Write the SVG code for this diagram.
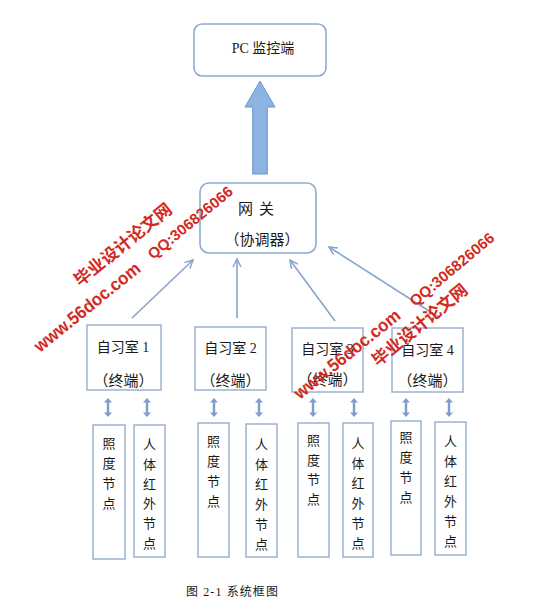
<svg xmlns="http://www.w3.org/2000/svg" xmlns:xlink="http://www.w3.org/1999/xlink" width="555" height="605" viewBox="0 0 555 605">
<style>
.rbox{fill:#fff;stroke:#8eaad1;stroke-width:1.6}
.box{fill:#fff;stroke:#9ab1d0;stroke-width:1.5}
.t{font-family:"Liberation Serif","Noto Sans CJK SC",serif;fill:#1a1a1a;text-anchor:middle;dominant-baseline:central}
.p{font-family:"Noto Sans CJK SC",sans-serif;fill:#1a1a1a;text-anchor:middle;dominant-baseline:central;font-size:15px}
.tn{font-family:"Noto Sans CJK SC",sans-serif;font-size:13px;fill:#1a1a1a;text-anchor:middle;dominant-baseline:central}
.con{stroke:#87a5cc;stroke-width:1.6;fill:none}
.wm{font-family:"Liberation Sans","Noto Sans CJK SC",sans-serif;font-weight:bold;fill:#d22a22}
</style>
<defs>
<marker id="arr" viewBox="0 0 10 10" refX="9" refY="5" markerWidth="10" markerHeight="10" markerUnits="userSpaceOnUse" orient="auto">
<path d="M1,1 L9,5 L1,9" fill="none" stroke="#87a5cc" stroke-width="1.5"/>
</marker>
<path id="dbl" d="M0,-9.5 L4,-5 L1.2,-5 L1.2,5 L4,5 L0,9.5 L-4,5 L-1.2,5 L-1.2,-5 L-4,-5 Z" fill="#7d9ec9"/>
</defs>
<rect width="555" height="605" fill="#fff"/>

<g id="pc">
<rect class="rbox" x="194" y="24" width="132" height="52" rx="8"/>
<text class="t" x="263" y="48.5" font-size="14">PC 监控端</text>
</g>

<g id="bigarrow">
<polygon points="260,81 275,107 267.3,107 267.3,174 252.7,174 252.7,107 245,107" fill="#8db3e2" stroke="#6f95c8" stroke-width="1"/>
</g>

<g id="gateway">
<rect class="rbox" x="200" y="183" width="116" height="70" rx="9"/>
<text class="t" x="256" y="209" font-size="15" textLength="36" lengthAdjust="spacing">网 关</text>
<text class="p" x="262" y="238.5">（协调器）</text>
</g>

<g id="room1">
<rect class="box" x="87" y="325" width="74" height="65"/>
<text class="t" x="123" y="347" font-size="14">自习室 1</text>
<text class="p" x="123.5" y="379">（终端）</text>
</g>
<g id="room2">
<rect class="box" x="195" y="327" width="71" height="63"/>
<text class="t" x="230.5" y="348" font-size="14">自习室 2</text>
<text class="p" x="230.5" y="379">（终端）</text>
</g>
<g id="room3">
<rect class="box" x="292" y="328" width="71" height="64"/>
<text class="t" x="327.5" y="349.5" font-size="14">自习室 3</text>
<text class="p" x="327.5" y="378.5">（终端）</text>
</g>
<g id="room4">
<rect class="box" x="392" y="328" width="71" height="64"/>
<text class="t" x="427.5" y="350" font-size="14">自习室 4</text>
<text class="p" x="427.5" y="379">（终端）</text>
</g>

<g id="node1a">
<rect class="box" x="93" y="425" width="32" height="134"/>
<text class="tn"><tspan x="109" y="442">照</tspan><tspan x="109" y="462">度</tspan><tspan x="109" y="482">节</tspan><tspan x="109" y="502">点</tspan></text>
</g>
<g id="node1b">
<rect class="box" x="134" y="425" width="31" height="132"/>
<text class="tn"><tspan x="149.5" y="443">人</tspan><tspan x="149.5" y="463">体</tspan><tspan x="149.5" y="483">红</tspan><tspan x="149.5" y="502">外</tspan><tspan x="149.5" y="522">节</tspan><tspan x="149.5" y="542">点</tspan></text>
</g>
<g id="node2a">
<rect class="box" x="198" y="423" width="31" height="134"/>
<text class="tn"><tspan x="213.5" y="440">照</tspan><tspan x="213.5" y="460">度</tspan><tspan x="213.5" y="480">节</tspan><tspan x="213.5" y="500">点</tspan></text>
</g>
<g id="node2b">
<rect class="box" x="246" y="424" width="31" height="133"/>
<text class="tn"><tspan x="261.5" y="443">人</tspan><tspan x="261.5" y="463">体</tspan><tspan x="261.5" y="483">红</tspan><tspan x="261.5" y="503">外</tspan><tspan x="261.5" y="523">节</tspan><tspan x="261.5" y="543">点</tspan></text>
</g>
<g id="node3a">
<rect class="box" x="298" y="423" width="31" height="134"/>
<text class="tn"><tspan x="313.5" y="439">照</tspan><tspan x="313.5" y="459">度</tspan><tspan x="313.5" y="478">节</tspan><tspan x="313.5" y="498">点</tspan></text>
</g>
<g id="node3b">
<rect class="box" x="343" y="423" width="30" height="134"/>
<text class="tn"><tspan x="358" y="442">人</tspan><tspan x="358" y="462">体</tspan><tspan x="358" y="482">红</tspan><tspan x="358" y="502">外</tspan><tspan x="358" y="522">节</tspan><tspan x="358" y="542">点</tspan></text>
</g>
<g id="node4a">
<rect class="box" x="391" y="421" width="30" height="134"/>
<text class="tn"><tspan x="406" y="436">照</tspan><tspan x="406" y="456">度</tspan><tspan x="406" y="476">节</tspan><tspan x="406" y="496">点</tspan></text>
</g>
<g id="node4b">
<rect class="box" x="435" y="422" width="31" height="133"/>
<text class="tn"><tspan x="450.5" y="440">人</tspan><tspan x="450.5" y="460">体</tspan><tspan x="450.5" y="480">红</tspan><tspan x="450.5" y="500">外</tspan><tspan x="450.5" y="520">节</tspan><tspan x="450.5" y="540">点</tspan></text>
</g>

<g id="connectors">
<line class="con" x1="132" y1="318" x2="193" y2="260" marker-end="url(#arr)"/>
<line class="con" x1="237" y1="318" x2="237" y2="259" marker-end="url(#arr)"/>
<line class="con" x1="335" y1="321" x2="290" y2="260" marker-end="url(#arr)"/>
<line class="con" x1="440" y1="318" x2="329" y2="247" marker-end="url(#arr)"/>
<use xlink:href="#dbl" x="108" y="407.5"/>
<use xlink:href="#dbl" x="147" y="407.5"/>
<use xlink:href="#dbl" x="214" y="407.5"/>
<use xlink:href="#dbl" x="259" y="407.5"/>
<use xlink:href="#dbl" x="313" y="407.5"/>
<use xlink:href="#dbl" x="354" y="407.5"/>
<use xlink:href="#dbl" x="406" y="407.5"/>
<use xlink:href="#dbl" x="449" y="407.5"/>
</g>

<text x="232" y="591.5" font-family="Liberation Serif,Noto Sans CJK SC,serif" font-size="12" fill="#1a1a1a" text-anchor="middle" dominant-baseline="central" textLength="92" lengthAdjust="spacing">图 2-1 系统框图</text>

<g id="watermark">
<text class="wm" transform="translate(40,353) rotate(-39)" font-size="18" textLength="131" lengthAdjust="spacingAndGlyphs">www.56doc.com</text>
<text class="wm" transform="translate(80,287) rotate(-39)" font-size="17" textLength="120" lengthAdjust="spacingAndGlyphs">毕业设计论文网</text>
<text class="wm" transform="translate(153,260) rotate(-39.5)" font-size="15" textLength="105" lengthAdjust="spacingAndGlyphs">QQ:306826066</text>
<text class="wm" transform="translate(300,400) rotate(-39)" font-size="18" textLength="131" lengthAdjust="spacingAndGlyphs">www.56doc.com</text>
<text class="wm" transform="translate(378,367) rotate(-39.5)" font-size="17" textLength="118" lengthAdjust="spacingAndGlyphs">毕业设计论文网</text>
<text class="wm" transform="translate(415,307) rotate(-40)" font-size="15" textLength="105" lengthAdjust="spacingAndGlyphs">QQ:306826066</text>
</g>
</svg>
